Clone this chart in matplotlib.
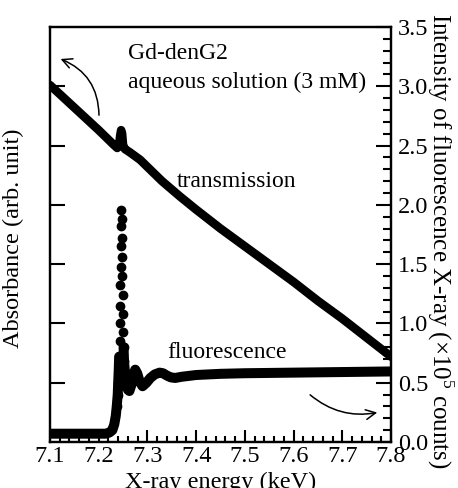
import numpy as np
import matplotlib
matplotlib.use("Agg")
import matplotlib.pyplot as plt
from matplotlib.ticker import MultipleLocator

plt.rcParams['font.family'] = ['Liberation Serif', 'DejaVu Serif']
plt.rcParams['mathtext.fontset'] = 'custom'
plt.rcParams['mathtext.rm'] = 'Liberation Serif'

# transmission (absorbance, left axis)
trans_x = [7.100, 7.150, 7.200, 7.230, 7.238, 7.242, 7.244, 7.246, 7.248, 7.250,
           7.254, 7.265, 7.275, 7.285, 7.300, 7.330, 7.367, 7.400, 7.450,
           7.500, 7.550, 7.600, 7.650, 7.700, 7.750, 7.800]
trans_y = [3.01, 2.82, 2.63, 2.51, 2.48, 2.50, 2.58, 2.63, 2.60, 2.50,
           2.47, 2.44, 2.41, 2.38, 2.32, 2.20, 2.07, 1.96, 1.80,
           1.65, 1.50, 1.35, 1.19, 1.04, 0.88, 0.72]

# fluorescence (intensity x1e5 counts, right axis)
fluor_x = [7.100, 7.150, 7.200, 7.215, 7.222, 7.228, 7.232, 7.235, 7.237, 7.239,
           7.240, 7.241, 7.242, 7.243, 7.2435, 7.244, 7.2445, 7.245, 7.2455, 7.246,
           7.2465, 7.247, 7.2475, 7.248, 7.2485, 7.249, 7.2495, 7.250, 7.251, 7.252,
           7.254, 7.257, 7.260, 7.263, 7.267, 7.271, 7.275, 7.279, 7.284, 7.290,
           7.298, 7.306, 7.315, 7.325, 7.332, 7.340, 7.348, 7.357, 7.370, 7.400,
           7.450, 7.500, 7.600, 7.700, 7.800]
fluor_y = [0.07, 0.07, 0.07, 0.07, 0.08, 0.10, 0.15, 0.22, 0.30, 0.40,
           0.50, 0.60, 0.72, 0.85, 1.00, 1.15, 1.32, 1.48, 1.65, 1.82,
           1.96, 1.88, 1.72, 1.56, 1.40, 1.24, 1.08, 0.93, 0.80, 0.68,
           0.58, 0.50, 0.44, 0.43, 0.48, 0.57, 0.61, 0.58, 0.51, 0.47,
           0.50, 0.54, 0.57, 0.585, 0.58, 0.56, 0.545, 0.54, 0.55, 0.565,
           0.575, 0.58, 0.585, 0.59, 0.595]

W, H = 458, 488
fig = plt.figure(figsize=(W / 100, H / 100), dpi=100)
ax = fig.add_axes([50 / W, 1 - 442 / H, 341 / W, 415 / H])
ax2 = ax.twinx()

ax.plot(trans_x, trans_y, color='black', lw=6.2,
        solid_capstyle='round', solid_joinstyle='round')

fx = np.array(fluor_x)
fy = np.array(fluor_y)
line_y = np.where(fy > 0.8, np.nan, fy)
ax2.plot(fx, line_y, color='black', lw=7.2,
         solid_capstyle='round', solid_joinstyle='round')
edge = (fx > 7.236) & (fx < 7.256)
ax2.plot(fx[edge], fy[edge], 'o', color='black', ms=6, mec='black')

for a in (ax, ax2):
    a.set_xlim(7.1, 7.8)
    a.set_ylim(0, 3.5)
    for s in a.spines.values():
        s.set_linewidth(1.6)

ax.set_xticks(np.arange(7.1, 7.81, 0.1))
ax.set_xticklabels(['7.1', '7.2', '7.3', '7.4', '7.5', '7.6', '7.7', '7.8'])
ax.xaxis.set_minor_locator(MultipleLocator(0.02))
ax.tick_params(axis='x', which='major', direction='in', length=9, width=1.5,
               top=False, labelsize=17.5, pad=3)
ax.tick_params(axis='x', which='minor', direction='in', length=4.5, width=1.5,
               top=False)
ax.set_yticks(np.arange(0.5, 3.01, 0.5))
ax.tick_params(axis='y', which='major', direction='in', length=10.5, width=1.5,
               labelleft=False, right=False)

ax2.set_yticks(np.arange(0, 3.51, 0.5))
ax2.set_yticklabels(['0.0', '0.5', '1.0', '1.5', '2.0', '2.5', '3.0', '3.5'])
ax2.yaxis.set_minor_locator(MultipleLocator(0.1))
ax2.tick_params(axis='y', which='major', direction='in', length=10.5, width=1.5,
                labelsize=17.5, pad=5)
ax2.tick_params(axis='y', which='minor', direction='in', length=5.5, width=1.5)

ax.set_xlabel('X-ray energy (keV)', fontsize=17.5)
ax.xaxis.set_label_coords(0.5, -0.071)
ax.set_ylabel('Absorbance (arb. unit)', fontsize=17.5)
ax.yaxis.set_label_coords(-0.076, 0.492)
ax2.set_ylabel(r'Intensity of fluorescence X-ray ($\times$10$^5$ counts)',
               fontsize=18, rotation=270)
ax2.yaxis.set_label_coords(1.19, 0.484)

ax.text(7.260, 3.23, 'Gd-denG2', fontsize=17, va='baseline')
ax.text(7.260, 2.986, 'aqueous solution (3 mM)', fontsize=17, va='baseline')
ax.text(7.3607, 2.153, 'transmission', fontsize=17, va='baseline')
ax.text(7.340, 0.708, 'fluorescence', fontsize=17, va='baseline')

ax.annotate('', xy=(7.1164, 3.239), xytext=(7.2006, 2.733),
            arrowprops=dict(arrowstyle='->,head_length=0.7,head_width=0.35',
                            connectionstyle='arc3,rad=0.35', lw=1.1, color='black'))
ax.annotate('', xy=(7.7774, 0.253), xytext=(7.6296, 0.413),
            arrowprops=dict(arrowstyle='->,head_length=0.7,head_width=0.35',
                            connectionstyle='arc3,rad=0.25', lw=1.1, color='black'))

fig.savefig('out.png', dpi=100)
